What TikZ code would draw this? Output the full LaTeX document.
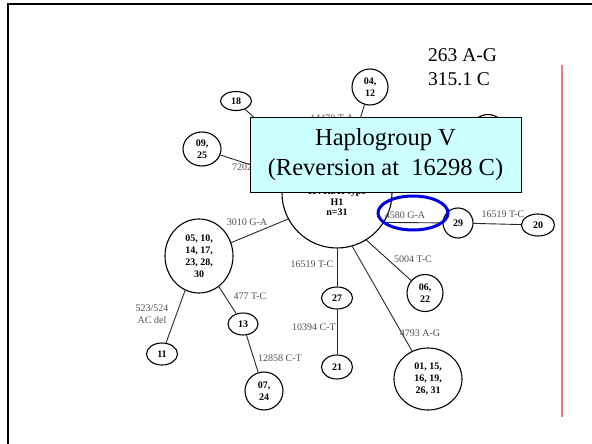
\documentclass[tikz,border=0pt]{standalone}
\usepackage{fontspec}
\setmainfont{Liberation Serif}
\usetikzlibrary{shapes.geometric}
\definecolor{boxcyan}{RGB}{204,255,255}
\definecolor{mutgray}{RGB}{80,80,80}
\definecolor{slidered}{RGB}{235,125,125}
\definecolor{ringblue}{RGB}{0,0,225}

\begin{document}
\begin{tikzpicture}[x=1pt,y=-1pt]
    \tikzstyle{hap}=[draw,ellipse,line width=1.1pt,inner sep=0pt,font=\fontsize{10}{12}\selectfont\bfseries,align=center]
    \tikzstyle{mut}=[font=\fontsize{10}{11.5}\selectfont,text=mutgray,inner sep=0pt,align=center]
    \tikzstyle{link}=[line width=0.9pt,draw=black!85]
    \useasboundingbox (0,0) rectangle (592,444);

    \draw[line width=2.6pt] (8,444) -- (8,4) -- (592,4);
    \draw[slidered,line width=1.3pt] (562,65) -- (562,417);

    \node[hap,minimum size=110] (hub) at (337,193) {};
    \node[font=\fontsize{10}{10.5}\selectfont\bfseries,align=center] (hubtext) at (337,202) {HVRI/II type\\H1\\n=31};
    \node[hap,minimum width=31,minimum height=19] (n18) at (236,101) {18};
    \node[hap,minimum width=38,minimum height=34] (n09) at (202,149) {09,\\25};
    \node[hap,minimum size=36] (n04) at (370,87) {04,\\12};
    \node[hap,minimum width=33,minimum height=31] (nhid) at (488,130) {};
    \node[hap,minimum size=30] (n29) at (458,223) {29};
    \node[hap,minimum width=33,minimum height=22] (n20) at (538,225) {20};
    \node[hap,minimum width=36,minimum height=37] (n06) at (425,293) {06,\\22};
    \node[hap,minimum width=31,minimum height=22] (n27) at (337,298) {27};
    \node[hap,minimum width=31,minimum height=24] (n21) at (337,367) {21};
    \node[hap,minimum width=68,minimum height=62] (n01) at (428,379) {01, 15,\\16, 19,\\26, 31};
    \node[hap,minimum width=68,minimum height=74] (n05) at (199,256) {05, 10,\\14, 17,\\23, 28,\\30};
    \node[hap,minimum width=30,minimum height=22] (n13) at (243,324) {13};
    \node[hap,minimum width=31,minimum height=22] (n11) at (162,354) {11};
    \node[hap,minimum size=38] (n07) at (264,391) {07,\\24};

    \draw[link] (n18) -- (hub);
    \draw[link] (n09) -- (hub);
    \draw[link] (n04) -- (hub);
    \draw[link] (nhid) -- (hub);
    \draw[link] (hub.-32) -- (n29);
    \draw[link] (n29) -- (n20);
    \draw[link] (hub.-58) -- (n06);
    \draw[link] (hub.south) -- (n27);
    \draw[link] (n27) -- (n21);
    \draw[link] (hub.-74) -- (n01);
    \draw[link] (hub.208) -- (n05);
    \draw[link] (n05) -- (n13);
    \draw[link] (n05.-112) -- (n11);
    \draw[link] (n13) -- (n07);

    \node[mut] (m14470) at (332,118) {14470 T-A};
    \node[mut] (m7202) at (251,167) {7202 T-C};
    \node[mut] (m4580) at (405,215) {4580 G-A};
    \node[mut] (m16519a) at (503,214) {16519 T-C};
    \node[mut] (m5004) at (413,259) {5004 T-C};
    \node[mut] (m16519b) at (312,264) {16519 T-C};
    \node[mut] (m10394) at (314,327) {10394 C-T};
    \node[mut] (m4793) at (420,333) {4793 A-G};
    \node[mut] (m3010) at (247,222) {3010 G-A};
    \node[mut] (m477) at (250,296) {477 T-C};
    \node[mut] (m523) at (152,314) {523/524\\AC del};
    \node[mut] (m12858) at (280,358) {12858 C-T};

    \node[anchor=west,align=left,inner sep=0pt,font=\fontsize{19.5}{24}\selectfont] (snps) at (428,67) {263 A-G\\315.1 C};
    \node[draw,fill=boxcyan,line width=0.8pt,minimum width=271,minimum height=75,align=center,font=\fontsize{24.5}{30}\selectfont] (vbox) at (385.5,154.5) {Haplogroup V\\(Reversion at\ \ 16298 C)};
    \node[draw=ringblue,ellipse,line width=3pt,minimum width=70,minimum height=34] (ring) at (413,213) {};
\end{tikzpicture}
\end{document}
